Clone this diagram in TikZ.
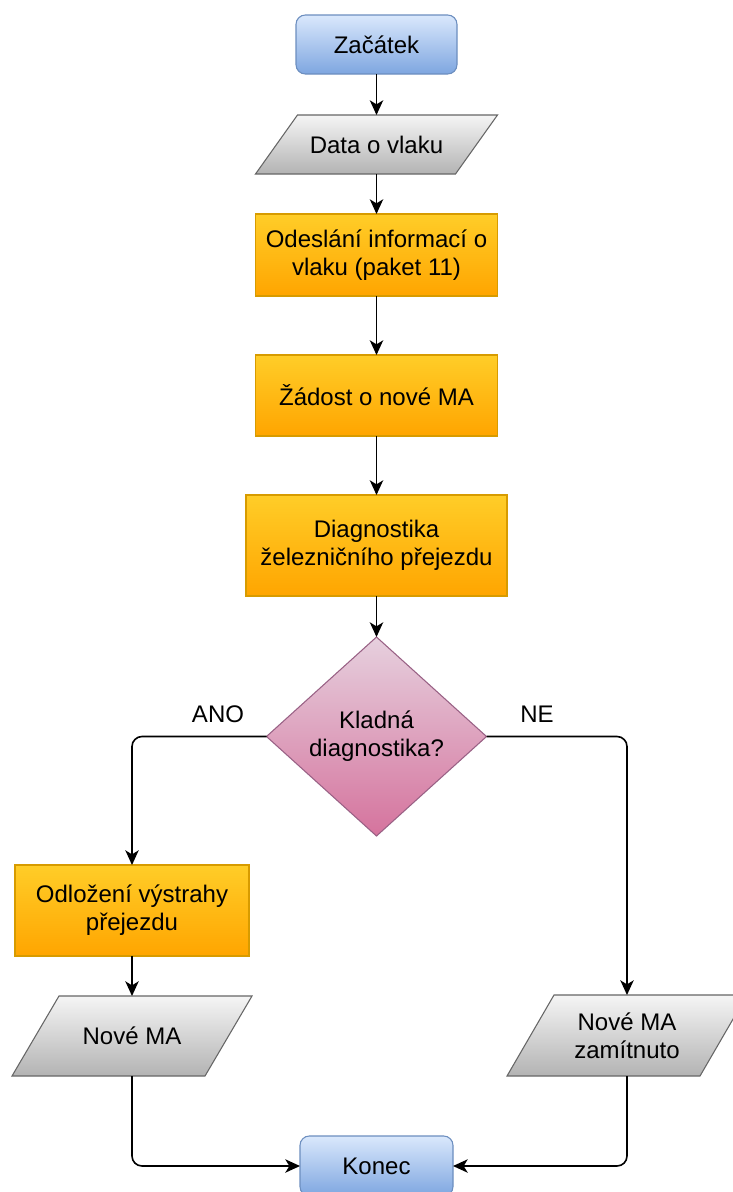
\documentclass[tikz,border=0pt]{standalone}
\usepackage{fontspec}
\setmainfont{Liberation Sans}
\usetikzlibrary{arrows.meta,calc,backgrounds}

\definecolor{blueTop}{HTML}{DAE8FC}
\definecolor{blueBot}{HTML}{7EA6E0}
\definecolor{blueLine}{HTML}{6C8EBF}
\definecolor{grayTop}{HTML}{F5F5F5}
\definecolor{grayBot}{HTML}{B3B3B3}
\definecolor{grayLine}{HTML}{666666}
\definecolor{orTop}{HTML}{FFCD28}
\definecolor{orBot}{HTML}{FFA500}
\definecolor{orLine}{HTML}{D79B00}
\definecolor{pkTop}{HTML}{E6D0DE}
\definecolor{pkBot}{HTML}{D5739D}
\definecolor{pkLine}{HTML}{996185}

\tikzset{
  txt/.style={align=center, font=\fontsize{18}{21}\selectfont, text=black},
  box/.style={txt, rectangle, inner sep=0pt, outer sep=0pt},
  terminal/.style={box, rounded corners=7pt, draw=blueLine, line width=0.8pt,
                   top color=blueTop, bottom color=blueBot},
  process/.style={box, draw=orLine, line width=0.8pt,
                  top color=orTop, bottom color=orBot},
  iobox/.style={box},
  ioshade/.style={draw=grayLine, line width=0.8pt, top color=grayTop, bottom color=grayBot},
  decshade/.style={draw=pkLine, line width=0.8pt, top color=pkTop, bottom color=pkBot},
  conn/.style={draw=black, line width=1.2pt,
               -{Stealth[length=11pt, width=10pt, inset=3pt]}},
  lbl/.style={font=\fontsize{18}{21}\selectfont, text=black}
}

\begin{document}
\begin{tikzpicture}[x=0.75pt, y=-0.75pt]
  \clip (0,0) rectangle (732,1192);
  \useasboundingbox (0,0) rectangle (732,1192);

  % main column
  \node[terminal, minimum width=120.75pt, minimum height=44.25pt] (start) at (376.5,44.5) {Začátek};
  \node[iobox, minimum width=181.5pt, minimum height=44.25pt] (data) at (376.5,144.5) {Data o vlaku};
  \node[process, minimum width=181.5pt, minimum height=61.5pt] (send) at (376.5,255) {Odeslání informací o\\vlaku (paket 11)};
  \node[process, minimum width=181.5pt, minimum height=60.75pt] (req) at (376.5,395.5) {Žádost o nové MA};
  \node[process, minimum width=195.75pt, minimum height=75.75pt] (diag) at (376.5,545.5) {Diagnostika\\železničního přejezdu};
  \node[box, minimum width=165pt, minimum height=149.25pt] (dec) at (376.5,736.5) {Kladná\\diagnostika?};

  % branches
  \node[process, minimum width=175.5pt, minimum height=68.25pt] (delay) at (132,910.5) {Odložení výstrahy\\přejezdu};
  \node[iobox, minimum width=180pt, minimum height=60pt] (newma) at (132,1036) {Nové MA};
  \node[iobox, minimum width=180pt, minimum height=60.75pt] (rej) at (627,1035.5) {Nové MA\\zamítnuto};
  \node[terminal, minimum width=114.75pt, minimum height=45pt] (end) at (376.5,1166) {Konec};

  \node[lbl] (ano) at (218,714) {ANO};
  \node[lbl] (ne) at (537,714) {NE};

  % parallelogram and diamond outlines behind their texts
  \begin{scope}[on background layer]
    \shade[ioshade] ($(data.north west)+(42,0)$) -- (data.north east)
      -- ($(data.south east)+(-42,0)$) -- (data.south west) -- cycle;
    \shade[ioshade] ($(newma.north west)+(47,0)$) -- (newma.north east)
      -- ($(newma.south east)+(-47,0)$) -- (newma.south west) -- cycle;
    \shade[ioshade] ($(rej.north west)+(47,0)$) -- (rej.north east)
      -- ($(rej.south east)+(-47,0)$) -- (rej.south west) -- cycle;
    \shade[decshade] (dec.north) -- (dec.east) -- (dec.south) -- (dec.west) -- cycle;
  \end{scope}

  % connectors
  \draw[conn] (start.south) -- (data.north);
  \draw[conn] (data.south) -- (send.north);
  \draw[conn] (send.south) -- (req.north);
  \draw[conn] (req.south) -- (diag.north);
  \draw[conn] (diag.south) -- (dec.north);
  \draw[conn, rounded corners=7.5pt] (dec.west) -| (delay.north);
  \draw[conn, rounded corners=7.5pt] (dec.east) -| (rej.north);
  \draw[conn] (delay.south) -- (newma.north);
  \draw[conn, rounded corners=7.5pt] (newma.south) |- (end.west);
  \draw[conn, rounded corners=7.5pt] (rej.south) |- (end.east);
\end{tikzpicture}
\end{document}
